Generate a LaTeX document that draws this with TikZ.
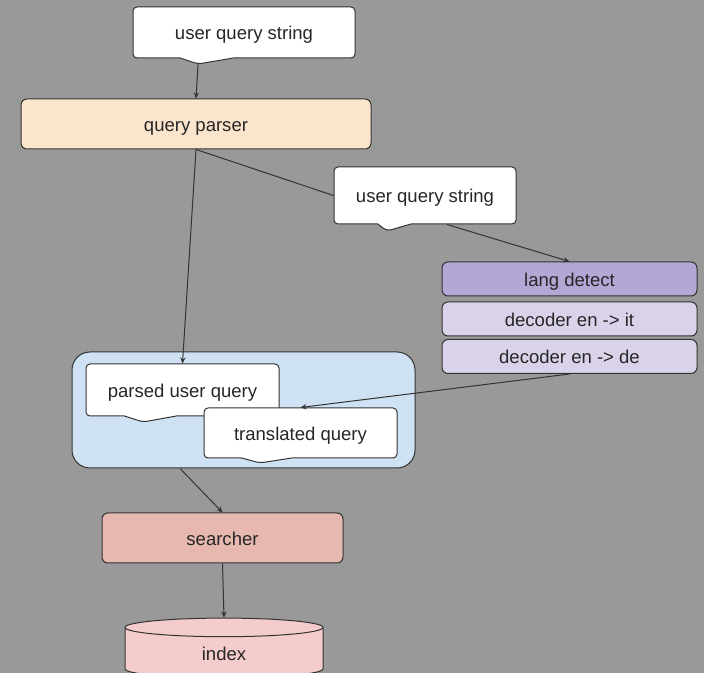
\documentclass[tikz,border=0pt]{standalone}
\usepackage{fontspec}
\setmainfont{Liberation Sans}
\usetikzlibrary{shapes.callouts,shapes.geometric,arrows.meta}
\definecolor{bggray}{HTML}{999999}
\definecolor{lineclr}{HTML}{333333}
\definecolor{parserfill}{HTML}{FCE5CD}
\definecolor{langfill}{HTML}{B4A7D6}
\definecolor{decfill}{HTML}{D9D2E9}
\definecolor{queryfill}{HTML}{CFE2F3}
\definecolor{searchfill}{HTML}{E6B8AF}
\definecolor{indexfill}{HTML}{F4CCCC}
\begin{document}
\begin{tikzpicture}[x=0.75pt,y=0.75pt,yscale=-1,xscale=1,
	every node/.style={font=\fontsize{13.9}{16}\selectfont, text=black!85, text height=11pt, text depth=0pt},
	box/.style={draw=lineclr, line width=0.75pt, rounded corners=4.5pt, inner sep=0pt},
	bubble/.style={rectangle callout, draw=lineclr, fill=white, line width=0.75pt, rounded corners=3pt, inner sep=0pt},
	flow/.style={draw=lineclr, line width=0.75pt, -{Stealth[length=4.5pt,width=4pt]}}]
	%set diagram size 704 x 673
	\path[use as bounding box, fill=bggray] (0,0) rectangle (704,673);
	\clip (0,0) rectangle (704,673);
	
	%Shape: Rectangle [id:qbox]
	\node[box, fill=queryfill, rounded corners=13.5pt, minimum width=257.25pt, minimum height=87pt] (qbox) at (243.5,410) {};
	
	%Shape: Callout [id:ustr]
	\node[bubble, minimum width=166.5pt, minimum height=38.25pt, callout relative pointer={(-6.54pt,-4.48pt)}, callout pointer width=40pt] (ustr) at (244,32.5) {user query string};
	%Shape: Rectangle [id:parser]
	\node[box, fill=parserfill, minimum width=262.5pt, minimum height=37.5pt] (parser) at (196,124) {query parser};
	%Shape: Callout [id:lstr]
	\node[bubble, minimum width=136.5pt, minimum height=42.75pt, callout relative pointer={(-5.6pt,-5.22pt)}, callout pointer width=25pt] (lstr) at (425,195.5) {user query string};
	
	%Shape: Rectangle [id:lang]
	\node[box, fill=langfill, minimum width=191.25pt, minimum height=25.5pt] (lang) at (569.5,279) {lang detect};
	%Shape: Rectangle [id:decit]
	\node[box, fill=decfill, minimum width=191.25pt, minimum height=25.5pt] (decit) at (569.5,319) {decoder en -> it};
	%Shape: Rectangle [id:decde]
	\node[box, fill=decfill, minimum width=191.25pt, minimum height=25.5pt] (decde) at (569.5,356.5) {decoder en -> de};
	
	%Shape: Callout [id:parsed]
	\node[bubble, minimum width=144.75pt, minimum height=39pt, callout relative pointer={(-5.55pt,-4.5pt)}, callout pointer width=39pt] (parsed) at (182.5,390) {parsed user query};
	%Shape: Callout [id:trans]
	\node[bubble, minimum width=144.75pt, minimum height=37.5pt, callout relative pointer={(-5.07pt,-3.75pt)}, callout pointer width=37.5pt] (trans) at (300.5,433) {translated query};
	
	%Shape: Rectangle [id:search]
	\node[box, fill=searchfill, minimum width=180.75pt, minimum height=37.5pt] (search) at (222.5,538) {searcher};
	%Shape: Can [id:index]
	\node[cylinder, shape border rotate=90, aspect=0.42, draw=lineclr, fill=indexfill, line width=0.75pt, minimum width=148.5pt, minimum height=45pt, inner sep=0pt] (index) at (224,653) {index};
	
	%Straight Lines
	\draw[flow] (ustr.pointer) -- (parser.north);
	\draw[flow] (parser.south) -- (parsed.north);
	\draw[lineclr, line width=0.75pt] (parser.south) -- (lstr.west);
	\draw[flow] ([xshift=16.5pt]lstr.south) -- (lang.north);
	\draw[flow] (decde.south) -- (trans.north);
	\draw[flow] ([xshift=-47.6pt]qbox.south) -- (search.north);
	\draw[flow] (search.south) -- (index.north);
\end{tikzpicture}
\end{document}
